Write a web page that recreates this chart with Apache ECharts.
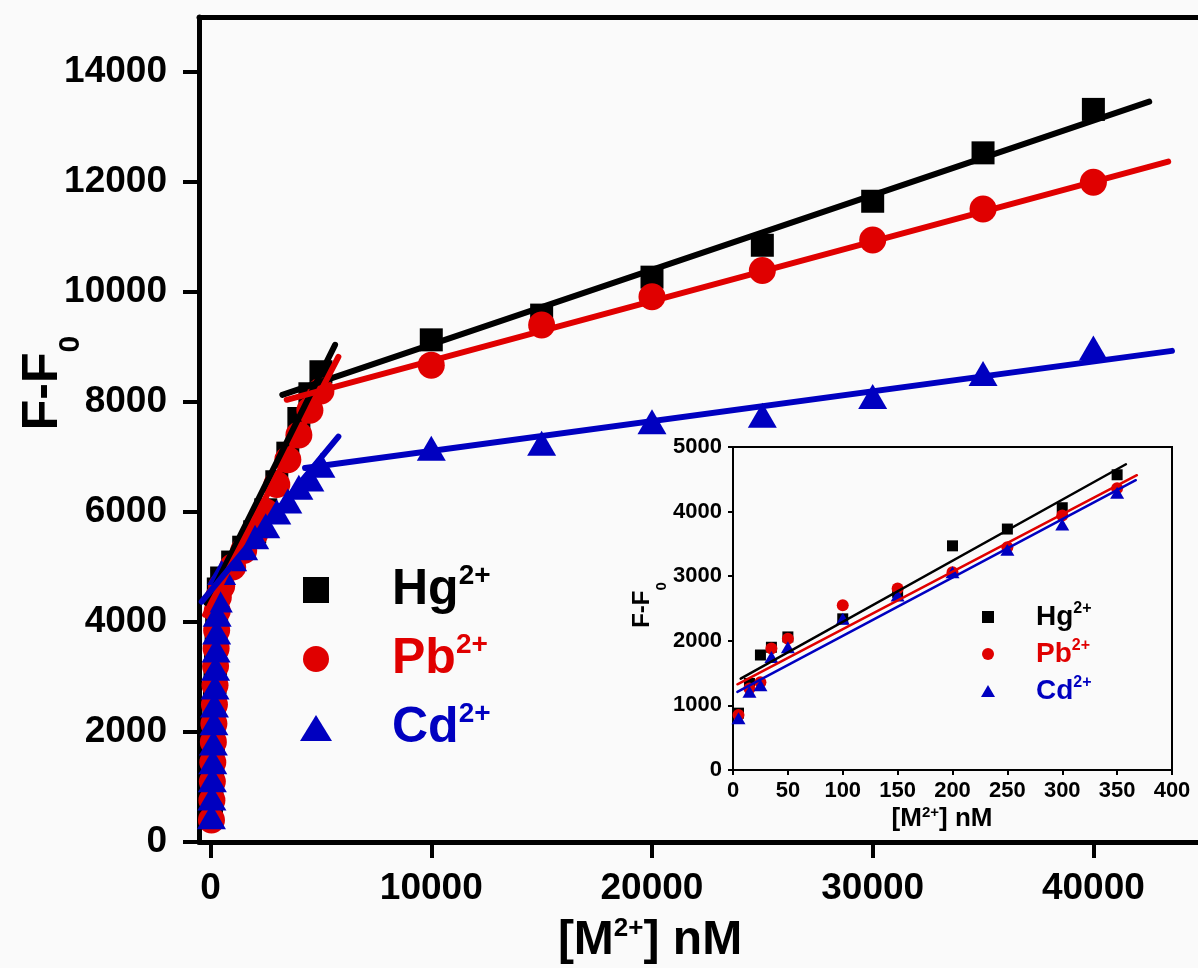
<!DOCTYPE html>
<html lang="en">
<head>
  <meta charset="UTF-8">
  <title>F-F0 vs [M2+]</title>
  <script src="https://cdn.jsdelivr.net/npm/echarts@6/dist/echarts.min.js"></script>
  <style>
    * {
      margin: 0;
      padding: 0
    }

    html, body {
      width: 100%;
      height: 100%;
      background: #fafafa;
    }

    #main {
      width: 1198px;
      height: 968px;
    }
  </style>
</head>
<body>
  <div id="main"></div>
</body>
<script type="text/javascript">
  /*-------------------- data --------------------*/
  // main plot, low concentrations (nM)
  var lowConc = [40, 60, 80, 100, 125, 150, 175, 200, 225, 250, 275, 300, 350];
  var hgLow = [500, 850, 1200, 1500, 1850, 2200, 2550, 2900, 3250, 3600, 3950, 4300, 4600];
  var pbLow = [400, 760, 1100, 1450, 1820, 2150, 2500, 2850, 3200, 3520, 3850, 4200, 4450];
  var cdLow = [460, 800, 1130, 1460, 1800, 2170, 2490, 2820, 3160, 3490, 3820, 4140, 4400];

  // main plot, 500 - 5000 nM
  var midConc = [500, 1000, 1500, 2000, 2500, 3000, 3500, 4000, 4500, 5000];
  var hgMid = [4800, 5090, 5360, 5640, 6040, 6550, 7070, 7700, 8150, 8550];
  var pbMid = [4650, 5000, 5300, 5600, 6000, 6500, 6950, 7400, 7850, 8200];
  var cdMid = [4900, 5150, 5350, 5550, 5750, 6000, 6200, 6450, 6600, 6850];

  // main plot, 10000 - 40000 nM
  var highConc = [10000, 15000, 20000, 25000, 30000, 35000, 40000];
  var hgHigh = [9130, 9580, 10270, 10850, 11650, 12530, 13320];
  var pbHigh = [8670, 9400, 9915, 10390, 10945, 11510, 11995];
  var cdHigh = [7160, 7250, 7640, 7760, 8100, 8520, 8980];

  // fitted lines of the main plot, [x, y] end points
  var hgFitLow = [[-180, 4345], [5640, 9040]];
  var pbFitLow = [[-250, 4130], [5790, 8820]];
  var cdFitLow = [[-400, 4370], [5790, 7370]];
  var hgFitHigh = [[3250, 8130], [42530, 13460]];
  var pbFitHigh = [[3450, 8040], [43390, 12370]];
  var cdFitHigh = [[4280, 6800], [43560, 8930]];

  // inset
  var insetConc = [5, 15, 25, 35, 50, 100, 150, 200, 250, 300, 350];
  var insetHg = [880, 1340, 1780, 1900, 2060, 2340, 2750, 3470, 3730, 4060, 4570];
  var insetPb = [850, 1260, 1360, 1880, 2030, 2550, 2810, 3060, 3450, 3940, 4360];
  var insetCd = [800, 1210, 1310, 1750, 1900, 2340, 2700, 3060, 3410, 3800, 4290];
  var insetHgFit = [[7, 1415], [358, 4733]];
  var insetPbFit = [[4, 1327], [368, 4563]];
  var insetCdFit = [[4, 1209], [367, 4486]];

  // tick labels
  var mainXTicks = [0, 10000, 20000, 30000, 40000];
  var mainYTicks = [0, 2000, 4000, 6000, 8000, 10000, 12000, 14000];

  /*-------------------- helpers --------------------*/
  var FONT = '"Liberation Sans", Arial, sans-serif';
  var BLACK = '#000000', RED = '#e00000', BLUE = '#0000c0';

  function pairs(xs, ys) {
    return xs.map(function (x, i) {
      return [x, ys[i]];
    });
  }

  function scatter(name, grid, symbol, size, color, data) {
    return {
      name: name, type: 'scatter', xAxisIndex: grid === 0 ? 0 : 2, yAxisIndex: grid,
      symbol: symbol, symbolSize: size, itemStyle: {color: color, opacity: 1},
      emphasis: {disabled: true}, data: data
    };
  }

  function fitLine(name, grid, width, color, data) {
    return {
      name: name, type: 'line', xAxisIndex: grid === 0 ? 0 : 2, yAxisIndex: grid,
      showSymbol: false, symbol: 'none', silent: true,
      lineStyle: {color: color, width: width, cap: 'round'},
      emphasis: {disabled: true}, data: data
    };
  }

  function legendItem(name, icon, color, fs, supFs, lh, supLh, pad) {
    return {
      name: name, icon: icon,
      textStyle: {
        padding: [0, 0, 0, pad],
        rich: {
          b: {fontSize: fs, fontWeight: 'bold', fontFamily: FONT, color: color, lineHeight: lh},
          s: {fontSize: supFs, fontWeight: 'bold', fontFamily: FONT, color: color, lineHeight: supLh, verticalAlign: 'top'}
        }
      }
    };
  }

  var SQUARE = 'path://M0,0L10,0L10,10L0,10Z';

  function plain(v) {
    return String(v);
  }

  function boldLabel(size, margin) {
    return {color: '#000', fontSize: size, fontWeight: 'bold', fontFamily: FONT, margin: margin, formatter: plain};
  }

  // rotated title with a subscript, "F-F" + "0"
  function subTitle(x, y, fs, subFs, lh) {
    return {
      type: 'text', x: x, y: y, rotation: Math.PI / 2, silent: true,
      style: {
        text: '{a|F-F}{b|0}',
        align: 'center', verticalAlign: 'middle', textAlign: 'center', textVerticalAlign: 'middle',
        rich: {
          a: {fontSize: fs, fontWeight: 'bold', fontFamily: FONT, fill: '#000', lineHeight: lh, verticalAlign: 'top'},
          b: {fontSize: subFs, fontWeight: 'bold', fontFamily: FONT, fill: '#000', lineHeight: lh, verticalAlign: 'bottom'}
        }
      }
    };
  }

  // horizontal title with a superscript, "[M" + "2+" + "] nM"
  function supTitle(x, y, fs, supFs) {
    return {
      type: 'text', x: x, y: y, silent: true,
      style: {
        text: '{a|[M}{s|2+}{a|] nM}',
        align: 'center', verticalAlign: 'middle', textAlign: 'center', textVerticalAlign: 'middle',
        rich: {
          a: {fontSize: fs, fontWeight: 'bold', fontFamily: FONT, fill: '#000', lineHeight: fs + 2},
          s: {fontSize: supFs, fontWeight: 'bold', fontFamily: FONT, fill: '#000', lineHeight: 8, verticalAlign: 'top'}
        }
      }
    };
  }

  /*-------------------- chart --------------------*/
  var chart = echarts.init(document.getElementById('main'), null, {renderer: 'canvas'});

  var series = [
    scatter('Hg2+', 0, 'rect', 23, BLACK,
      pairs(lowConc, hgLow).concat(pairs(midConc, hgMid), pairs(highConc, hgHigh))),
    scatter('Pb2+', 0, 'circle', 27, RED,
      pairs(lowConc, pbLow).concat(pairs(midConc, pbMid), pairs(highConc, pbHigh))),
    scatter('Cd2+', 0, 'triangle', [29, 25], BLUE,
      pairs(lowConc, cdLow).concat(pairs(midConc, cdMid), pairs(highConc, cdHigh))),
    fitLine('Hg fit 1', 0, 6, BLACK, hgFitLow),
    fitLine('Hg fit 2', 0, 6, BLACK, hgFitHigh),
    fitLine('Pb fit 1', 0, 6, RED, pbFitLow),
    fitLine('Pb fit 2', 0, 6, RED, pbFitHigh),
    fitLine('Cd fit 1', 0, 6, BLUE, cdFitLow),
    fitLine('Cd fit 2', 0, 6, BLUE, cdFitHigh),

    scatter('Hg2+', 1, 'rect', 11, BLACK, pairs(insetConc, insetHg)),
    scatter('Pb2+', 1, 'circle', 12, RED, pairs(insetConc, insetPb)),
    scatter('Cd2+', 1, 'triangle', [14, 12], BLUE, pairs(insetConc, insetCd)),
    fitLine('Hg inset fit', 1, 2.5, BLACK, insetHgFit),
    fitLine('Pb inset fit', 1, 2.5, RED, insetPbFit),
    fitLine('Cd inset fit', 1, 2.5, BLUE, insetCdFit)
  ];

  chart.setOption({
    backgroundColor: '#fafafa',
    animation: false,
    grid: [
      {left: 199, top: 17, right: 0, bottom: 126, outerBoundsMode: 'none'},
      {left: 733, top: 447, width: 439, height: 323, show: true, borderColor: '#000', borderWidth: 2,
        backgroundColor: 'transparent', outerBoundsMode: 'none'}
    ],
    xAxis: [
      {
        gridIndex: 0, type: 'value', min: -525, max: 44740, position: 'bottom',
        axisLine: {show: true, onZero: false, lineStyle: {color: '#000', width: 5}},
        axisTick: {show: true, inside: false, length: 16, customValues: mainXTicks, lineStyle: {color: '#000', width: 4}},
        axisLabel: Object.assign(boldLabel(37, 28), {customValues: mainXTicks}),
        splitLine: {show: false}
      },
      {
        gridIndex: 0, type: 'value', min: -525, max: 44740, position: 'top',
        axisLine: {show: true, onZero: false, lineStyle: {color: '#000', width: 5}},
        axisTick: {show: false}, axisLabel: {show: false}, splitLine: {show: false}
      },
      {
        gridIndex: 1, type: 'value', min: 0, max: 400, interval: 50, position: 'bottom',
        axisLine: {show: true, onZero: false, lineStyle: {color: '#000', width: 2}},
        axisTick: {show: true, inside: false, length: 5, lineStyle: {color: '#000', width: 2}},
        axisLabel: boldLabel(22, 10),
        splitLine: {show: false}
      }
    ],
    yAxis: [
      {
        gridIndex: 0, type: 'value', min: 0, max: 15000,
        axisLine: {show: true, onZero: false, lineStyle: {color: '#000', width: 5}},
        axisTick: {show: true, inside: false, length: 16, customValues: mainYTicks, lineStyle: {color: '#000', width: 4}},
        axisLabel: Object.assign(boldLabel(37, 32), {customValues: mainYTicks}),
        splitLine: {show: false}
      },
      {
        gridIndex: 1, type: 'value', min: 0, max: 5000, interval: 1000,
        axisLine: {show: true, onZero: false, lineStyle: {color: '#000', width: 2}},
        axisTick: {show: true, inside: false, length: 5, lineStyle: {color: '#000', width: 2}},
        axisLabel: boldLabel(22, 11),
        splitLine: {show: false}
      }
    ],
    legend: [
      {
        orient: 'vertical', left: 300, top: 562, padding: 0, itemGap: 16,
        itemWidth: 32, itemHeight: 26, selectedMode: false,
        formatter: function (name) {
          return '{b|' + name.replace('2+', '') + '}{s|2+}';
        },
        data: [
          legendItem('Hg2+', SQUARE, BLACK, 50, 28, 56, 20, 55),
          legendItem('Pb2+', 'circle', RED, 50, 28, 56, 20, 55),
          legendItem('Cd2+', 'triangle', BLUE, 50, 28, 56, 20, 55)
        ]
      },
      {
        orient: 'vertical', left: 981, top: 601, padding: 0, itemGap: 7,
        itemWidth: 14, itemHeight: 12, selectedMode: false,
        formatter: function (name) {
          return '{b|' + name.replace('2+', '') + '}{s|2+}';
        },
        data: [
          legendItem('Hg2+', SQUARE, BLACK, 28, 16, 32, 14, 36),
          legendItem('Pb2+', 'circle', RED, 28, 16, 32, 14, 36),
          legendItem('Cd2+', 'triangle', BLUE, 28, 16, 32, 14, 36)
        ]
      }
    ],
    graphic: [
      supTitle(650, 941, 48, 26),
      subTitle(52, 383, 50, 30, 67),
      supTitle(942, 819, 26, 15),
      subTitle(650, 605, 24, 15, 39)
    ],
    series: series
  });
</script>
</html>
